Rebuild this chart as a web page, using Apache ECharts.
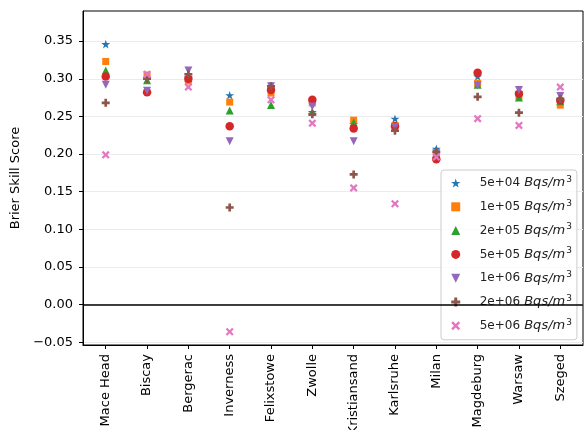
<!DOCTYPE html>
<html>
<head>
<meta charset="utf-8">
<script src="https://cdn.jsdelivr.net/npm/echarts@6/dist/echarts.min.js"></script>
<style>
  html, body { margin: 0; padding: 0; background: #fff; }
  #chart { width: 584px; height: 430px; }
</style>
</head>
<body>
<div id="chart"></div>
<script>
// Sites along the x axis
const sites = ['Mace Head', 'Biscay', 'Bergerac', 'Inverness', 'Felixstowe', 'Zwolle',
  'Kristiansand', 'Karlsruhe', 'Milan', 'Magdeburg', 'Warsaw', 'Szeged'];

// Release thresholds (legend labels)
const thresholds = ['5e+04', '1e+05', '2e+05', '5e+05', '1e+06', '2e+06', '5e+06'];

// Brier skill score per site, one array per threshold
const bss5e4 = [0.346, 0.300, 0.302, 0.278, 0.290, 0.256, 0.240, 0.247, 0.207, 0.303, 0.282, 0.272];
const bss1e5 = [0.323, 0.305, 0.297, 0.269, 0.281, 0.268, 0.245, 0.238, 0.199, 0.294, 0.277, 0.265];
const bss2e5 = [0.311, 0.298, 0.301, 0.258, 0.265, 0.256, 0.242, 0.236, 0.200, 0.292, 0.275, 0.270];
const bss5e5 = [0.303, 0.282, 0.300, 0.237, 0.285, 0.272, 0.234, 0.237, 0.193, 0.308, 0.280, 0.271];
const bss1e6 = [0.292, 0.284, 0.311, 0.217, 0.290, 0.263, 0.217, 0.236, 0.201, 0.291, 0.285, 0.277];
const bss2e6 = [0.268, 0.300, 0.306, 0.129, 0.290, 0.253, 0.173, 0.231, 0.203, 0.276, 0.255, 0.273];
const bss5e6 = [0.199, 0.306, 0.289, -0.036, 0.272, 0.241, 0.155, 0.134, 0.196, 0.247, 0.238, 0.289];

// Y tick values
const yTicks = [-0.05, 0.00, 0.05, 0.10, 0.15, 0.20, 0.25, 0.30, 0.35];
const xTicks = sites.map((_, i) => i);

const values = [bss5e4, bss1e5, bss2e5, bss5e5, bss1e6, bss2e6, bss5e6];
const colors = ['#1f77b4', '#ff7f0e', '#2ca02c', '#d62728', '#9467bd', '#8c564b', '#e377c2'];

// Marker shapes (paths keep their aspect ratio in the legend too)
const STAR = 'path://M0,-1L0.2245,-0.309L0.951,-0.309L0.3633,0.118L0.5878,0.809L0,0.382L-0.5878,0.809L-0.3633,0.118L-0.951,-0.309L-0.2245,-0.309Z';
const SQUARE = 'path://M0,0L1,0L1,1L0,1Z';
const TRI_UP = 'path://M0,-1L1,1L-1,1Z';
const TRI_DOWN = 'path://M-1,-1L1,-1L0,1Z';
const PLUS = 'path://M2,0L4,0L4,2L6,2L6,4L4,4L4,6L2,6L2,4L0,4L0,2L2,2Z';
const XMARK = 'path://M0,1.2L1.2,0L3,1.8L4.8,0L6,1.2L4.2,3L6,4.8L4.8,6L3,4.2L1.2,6L0,4.8L1.8,3Z';
const markers = [
  { symbol: STAR, size: 9 },
  { symbol: SQUARE, size: 7 },
  { symbol: TRI_UP, size: 8 },
  { symbol: 'circle', size: 8.5 },
  { symbol: TRI_DOWN, size: 8 },
  { symbol: PLUS, size: 8 },
  { symbol: XMARK, size: 8 }
];

const FONT = 'DejaVu Sans';

const series = thresholds.map((t, k) => ({
  name: t,
  type: 'scatter',
  data: values[k].map((v, i) => [i, v]),
  symbol: markers[k].symbol,
  symbolSize: markers[k].size,
  symbolKeepAspect: true,
  itemStyle: { color: colors[k], opacity: 1 },
  z: 3 + k,
  emphasis: { disabled: true },
  animation: false
}));

// Zero reference line
series.push({
  type: 'scatter',
  data: [],
  silent: true,
  markLine: {
    silent: true,
    symbol: 'none',
    label: { show: false },
    lineStyle: { color: '#000', width: 1.5, type: 'solid' },
    data: [{ yAxis: 0 }],
    animation: false
  },
  z: 2
});

const chart = echarts.init(document.getElementById('chart'), null, { renderer: 'canvas' });
chart.setOption({
  animation: false,
  backgroundColor: '#fff',
  textStyle: { fontFamily: FONT },
  grid: {
    left: 83, right: 1, top: 11, bottom: 85,
    outerBoundsMode: 'none',
    containLabel: false,
    show: true, borderColor: '#000', borderWidth: 1, backgroundColor: 'transparent'
  },
  xAxis: {
    type: 'value',
    min: -0.55,
    max: 11.55,
    axisLine: { show: true, onZero: false, lineStyle: { color: '#000', width: 1 } },
    axisTick: { show: true, customValues: xTicks, length: 4, lineStyle: { color: '#000' } },
    axisLabel: {
      customValues: xTicks,
      rotate: 90,
      margin: 9,
      fontSize: 13,
      fontFamily: FONT,
      color: '#000',
      formatter: v => sites[Math.round(v)] || ''
    },
    splitLine: { show: false }
  },
  yAxis: {
    type: 'value',
    min: -0.0536,
    max: 0.39,
    name: 'Brier Skill Score',
    nameLocation: 'middle',
    nameGap: 50,
    nameTextStyle: { fontSize: 13, fontFamily: FONT, color: '#000' },
    axisLine: { show: true, onZero: false, lineStyle: { color: '#000', width: 1 } },
    axisTick: { show: true, customValues: yTicks, length: 4, lineStyle: { color: '#000' } },
    axisLabel: {
      customValues: yTicks,
      margin: 10,
      fontSize: 13,
      fontFamily: FONT,
      color: '#000',
      formatter: v => (v < 0 ? '\u2212' : '') + Math.abs(v).toFixed(2)
    },
    splitLine: { show: true, lineStyle: { color: '#ebebeb', width: 1 } }
  },
  legend: {
    orient: 'vertical',
    left: 441,
    top: 170,
    padding: [5, 5, 6, 10],
    itemWidth: 30,
    itemHeight: 9,
    itemGap: 7.8,
    symbolKeepAspect: true,
    backgroundColor: 'rgba(255,255,255,0.8)',
    borderColor: '#cccccc',
    borderWidth: 1,
    borderRadius: 3,
    selectedMode: false,
    data: thresholds.map((t, k) => ({
      name: t,
      icon: markers[k].symbol,
      itemStyle: { color: colors[k] }
    })),
    formatter: name => `{n|${name}}{i| Bqs/m}{s|3}`,
    textStyle: {
      fontFamily: FONT,
      fontSize: 12,
      color: '#222',
      lineHeight: 16,
      rich: {
        n: { fontSize: 12, fontFamily: FONT, color: '#222', padding: [0, 0, 0, 4], lineHeight: 16 },
        i: { fontSize: 13, fontFamily: FONT, fontStyle: 'italic', color: '#222', lineHeight: 16 },
        s: { fontSize: 9, fontFamily: FONT, color: '#222', verticalAlign: 'top', lineHeight: 16, padding: [0, 0, 0, 1] }
      }
    }
  },
  series: series
});
</script>
</body>
</html>
